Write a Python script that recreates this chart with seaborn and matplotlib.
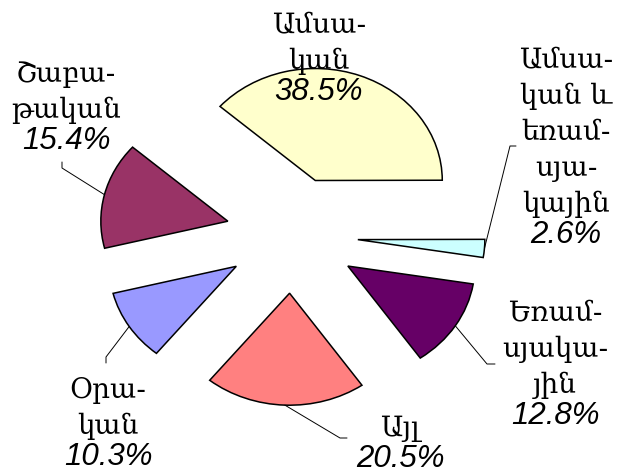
import numpy as np
import seaborn as sns
import matplotlib.pyplot as plt

# data (clockwise, first slice ends at 3 o'clock)
names = ["Ամսա-\nկան", "Ամսա-\nկան և\nեռամ-\nսյա-\nկային", "Եռամ-\nսյակա-\nյին",
         "Այլ", "Օրա-\nկան", "Շաբա-\nթական"]
shares = [38.5, 2.6, 12.8, 20.5, 10.3, 15.4]
colors = ["#FFFFCC", "#CCFFFF", "#660066", "#FF8080", "#9999FF", "#993366"]

# layout in pixels of the 619x474 picture (pie is stretched sideways)
CX, CY, SX, SY = 292, 235, 127, 112
# centre of the percentage line of each label
label_px = [(319, 92), (566, 235), (555, 416), (400, 459), (108, 457), (66, 141)]
leader_px = [None, [(510, 146), (516, 146)], [(487, 364), (495, 364)],
             [(340, 438), (347, 438)], [(106, 357), (106, 363)], [(62, 168), (62, 162)]]


def px(p):
    return ((p[0] - CX) / SX, (CY - p[1]) / SY)


sns.set_style("white")
fig = plt.figure(figsize=(6.19, 4.74), dpi=100)
ax = fig.add_axes([0, 0, 1, 1])

start = shares[0] * 3.6
wedges, _ = ax.pie(shares, colors=colors, startangle=start, counterclock=False,
                   explode=[0.52] * len(shares), radius=1,
                   wedgeprops=dict(edgecolor="black", linewidth=1.1))

for i, w in enumerate(wedges):
    lx, ly = px(label_px[i])
    nx, ny = px((label_px[i][0], label_px[i][1] - 17))
    ax.text(nx, ny, names[i], ha="center", va="bottom", multialignment="center",
            fontsize=20, color="black", family=["DejaVu Serif", "DejaVu Sans"],
            linespacing=1.42)
    ax.text(lx, ly, f"{shares[i]:.1f}%", ha="center", va="center", color="black",
            fontsize=22.5, family="Liberation Sans", style="italic")
    if leader_px[i] is not None:
        mid = np.deg2rad((w.theta1 + w.theta2) / 2)
        x0 = w.center[0] + w.r * np.cos(mid)
        y0 = w.center[1] + w.r * np.sin(mid)
        pts = [px(p) for p in leader_px[i]]
        xs = [x0] + [p[0] for p in pts]
        ys = [y0] + [p[1] for p in pts]
        ax.plot(xs, ys, color="black", linewidth=0.7)

ax.set_aspect("auto")
ax.set_xlim(-CX / SX, (619 - CX) / SX)
ax.set_ylim(-(474 - CY) / SY, CY / SY)
ax.axis("off")
fig.savefig("out.png", dpi=100)
